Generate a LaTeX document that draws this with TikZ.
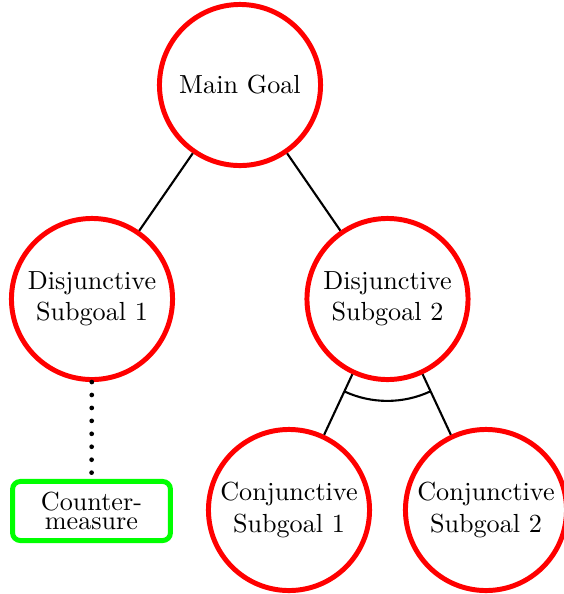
\documentclass[tikz,border=0pt]{standalone}
\usetikzlibrary{calc}
\begin{document}
\begin{tikzpicture}[
  x=0.3824pt, y=-0.3824pt,
  goal/.style={circle, draw=red, line width=1.9pt, minimum size=61.6pt,
    inner sep=0pt, align=center, font=\normalsize},
  counter/.style={rectangle, rounded corners=3pt, draw=green, line width=1.9pt,
    minimum width=60.4pt, minimum height=22.6pt, inner sep=0pt, align=center},
  edge/.style={draw=black, thick},
  mitigates/.style={draw=black, line width=1.8pt, line cap=round,
    dash pattern=on 0pt off 4.95pt}
]
\useasboundingbox (0,0) rectangle (563,594);

\node[goal] (main) at (240,85) {Main Goal};
\node[goal] (ds1) at (92,299) {Disjunctive\\Subgoal 1};
\node[goal] (ds2) at (387.5,299) {Disjunctive\\Subgoal 2};
\node[goal] (cs1) at (289,510) {Conjunctive\\Subgoal 1};
\node[goal] (cs2) at (486,510) {Conjunctive\\Subgoal 2};
\node[counter] (cm) at (91.5,511) {Counter-\\[-4.6pt]measure};

% refinement edges
\draw[edge] (main) -- (ds1);
\draw[edge] (main) -- (ds2);
\draw[edge] (ds2) -- (cs1);
\draw[edge] (ds2) -- (cs2);

% conjunction arc across the two children of ds2
\coordinate (arcstart) at ($(ds2.center)!39pt!(cs1.center)$);
\draw[edge] (arcstart) arc[start angle=-114.9, end angle=-65.1, radius=39pt];

% countermeasure link
\draw[mitigates] (ds1) -- (cm);
\end{tikzpicture}
\end{document}
